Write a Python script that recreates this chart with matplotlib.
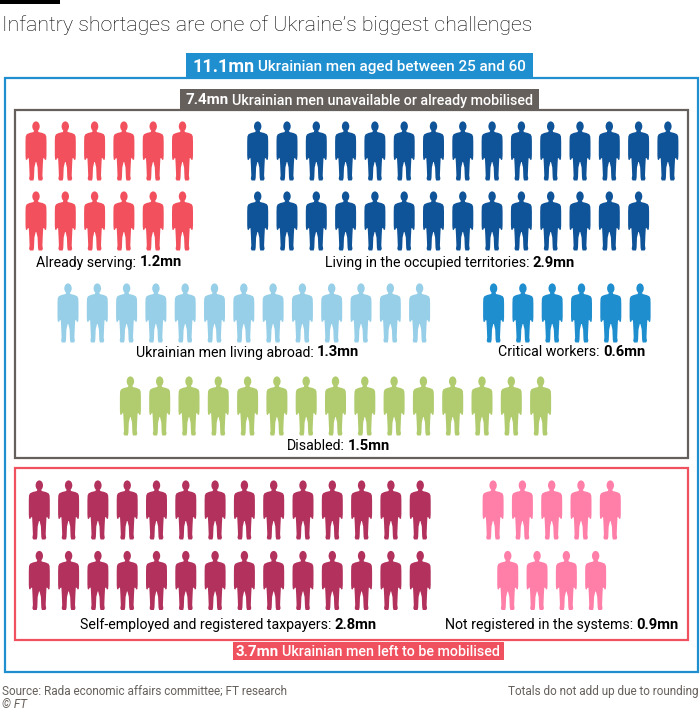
import matplotlib
matplotlib.use("Agg")
import matplotlib.pyplot as plt
from matplotlib.patches import Polygon, Ellipse, Rectangle

plt.rcParams['font.family'] = ['Roboto', 'DejaVu Sans']

# data: millions of men, one figure = 0.1mn
categories = ["Already serving", "Living in the occupied territories",
              "Ukrainian men living abroad", "Critical workers", "Disabled",
              "Self-employed and registered taxpayers",
              "Not registered in the systems"]
values_mn = [1.2, 2.9, 1.3, 0.6, 1.5, 2.8, 0.9]
colors = ["#f2505d", "#0f5499", "#96cfe7", "#1f8ecf", "#b0cc6e",
          "#b3325d", "#ff7fa9"]
per_man = 0.1

total_all = 11.1
total_unavailable = 7.4
total_left = 3.7

# layout: first figure x, row tops, figures per row, row alignment, label pos
layout = [
    dict(x0=36.0, tops=[121.5, 191.5], per_row=6, center=False, lab=(109, 266.5)),
    dict(x0=257.7, tops=[121.5, 191.5], per_row=15, center=False, lab=(450, 267)),
    dict(x0=68.0, tops=[283.5], per_row=13, center=False, lab=(247.7, 356.5)),
    dict(x0=493.6, tops=[283.5], per_row=6, center=False, lab=(571.6, 356.5)),
    dict(x0=130.4, tops=[376.5], per_row=15, center=False, lab=(338.6, 449.5)),
    dict(x0=39.3, tops=[480.5, 551.0], per_row=14, center=False, lab=(228, 629)),
    dict(x0=493.1, tops=[480.5, 551.0], per_row=5, center=True, lab=(562, 629)),
]
step = 29.3

fig = plt.figure(figsize=(7, 7.1), dpi=100)
ax = fig.add_axes([0, 0, 1, 1])
ax.set_xlim(0, 700)
ax.set_ylim(710, 0)
ax.axis("off")
renderer = fig.canvas.get_renderer()

# half outline of a standing man, y downwards from the top of the head
half = [(0, 8.5), (2.0, 9.0), (2.4, 10.5), (6.5, 11.5), (9.3, 12.8),
        (10.3, 15.0), (10.5, 20), (10.5, 34), (10.2, 38.0), (9.0, 38.6),
        (8.4, 37.0), (7.2, 36.6), (6.8, 44), (6.4, 54), (6.9, 57.3),
        (6.0, 59), (2.6, 59), (2.0, 56.5), (1.6, 46), (0.3, 40.5)]
outline = half + [(-x, y) for x, y in reversed(half)]


def man(cx, top, color):
    pts = [(cx + x, top + y) for x, y in outline]
    ax.add_patch(Polygon(pts, closed=True, fc=color, ec="none", zorder=3))
    ax.add_patch(Ellipse((cx, top + 4.9), 7.4, 10.0, fc=color, ec="none", zorder=3))


def rich(cx, base, parts, color="black", gap=0.22):
    objs = []
    widths = []
    for s, w, fs in parts:
        t = ax.text(0, base, s, fontsize=fs, fontweight=w, color=color,
                    ha="left", va="baseline", zorder=6)
        objs.append(t)
        widths.append(t.get_window_extent(renderer=renderer).width)
    gaps = [gap * parts[i][2] * 100 / 72 for i in range(len(parts) - 1)]
    total = sum(widths) + sum(gaps)
    x = cx - total / 2
    for i, t in enumerate(objs):
        t.set_x(x)
        x += widths[i] + (gaps[i] if i < len(gaps) else 0)


# figures
for v, c, lay, name in zip(values_mn, colors, layout, categories):
    n = int(round(v / per_man))
    rows = [min(lay["per_row"], n - i) for i in range(0, n, lay["per_row"])]
    for r, cnt in enumerate(rows):
        x0 = lay["x0"]
        if lay["center"]:
            x0 += (lay["per_row"] - cnt) * step / 2
        for k in range(cnt):
            man(x0 + k * step, lay["tops"][r], c)
    rich(lay["lab"][0], lay["lab"][1],
         [(name + ":", "normal", 10.2), (f"{v:.1f}mn", "bold", 10.6)])

# frames
blue = "#1f8fd0"
grey = "#66605c"
red = "#f0515e"
ax.add_patch(Rectangle((4.5, 78), 693.5, 593.7, fc="none", ec=blue, lw=1.6, zorder=2))
ax.add_patch(Rectangle((15, 110), 673, 347.5, fc="none", ec=grey, lw=1.6, zorder=2))
ax.add_patch(Rectangle((14.8, 468.3), 673.2, 171.7, fc="none", ec=red, lw=1.6, zorder=2))

# header tags
ax.add_patch(Rectangle((185.5, 53.3), 347.5, 24.4, fc=blue, ec="none", zorder=5))
rich(359.3, 71.5, [(f"{total_all:.1f}mn", "bold", 13.0),
                   ("Ukrainian men aged between 25 and 60", "medium", 11.0)],
     color="white")
ax.add_patch(Rectangle((180, 89.3), 358.7, 20.7, fc=grey, ec="none", zorder=5))
rich(359.3, 104.5, [(f"{total_unavailable:.1f}mn", "bold", 10.9),
                    ("Ukrainian men unavailable or already mobilised", "medium", 10.3)],
     color="white")
ax.add_patch(Rectangle((232.5, 641.5), 271.3, 18, fc=red, ec="none", zorder=5))
rich(368.1, 655.5, [(f"{total_left:.1f}mn", "bold", 10.9),
                    ("Ukrainian men left to be mobilised", "medium", 10.3)],
     color="white")

# title, bar and footer
ax.add_patch(Rectangle((0, 0), 60, 4.3, fc="black", ec="none", zorder=5))
ax.text(1.5, 31, "Infantry shortages are one of Ukraine\u2019s biggest challenges",
        fontsize=15.4, fontweight="light", color="black", ha="left", va="baseline")
ax.text(1.5, 695, "Source: Rada economic affairs committee; FT research",
        fontsize=8.45, color="#66605c", ha="left", va="baseline")
ax.text(1.5, 708.5, "\u00a9 FT", fontsize=8.45, fontstyle="italic",
        color="#66605c", ha="left", va="baseline")
ax.text(698, 695, "Totals do not add up due to rounding", fontsize=8.45,
        color="#66605c", ha="right", va="baseline")

fig.savefig("out.png", dpi=100)
